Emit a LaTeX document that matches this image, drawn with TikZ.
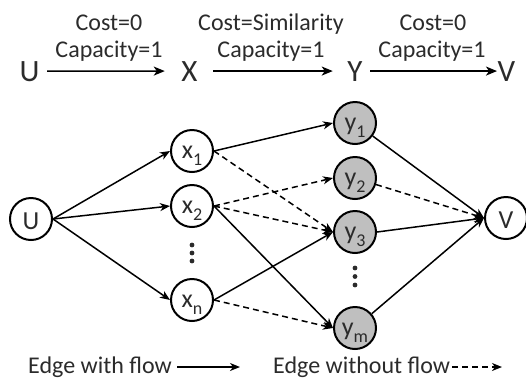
\documentclass[tikz,border=0pt]{standalone}
\usepackage{fontspec}
\setmainfont{Carlito}
\usetikzlibrary{arrows.meta}
\definecolor{ink}{HTML}{2B2B2B}
\definecolor{nodegray}{HTML}{BFBFBF}
% letter with a lowered index, as in x_1
\newcommand\idx[2]{#1\raisebox{-0.3em}{\fontsize{18bp}{18bp}\selectfont #2}}
\begin{document}
\begin{tikzpicture}[x=1bp, y=-1bp,
  every node/.style={font=\fontsize{24bp}{28bp}\selectfont, text=ink},
  txt/.style={inner sep=0pt, anchor=base},
  head/.style={txt, font=\fontsize{31bp}{34bp}\selectfont},
  vertex/.style={circle, draw=black, line width=2bp, minimum size=42bp,
    inner sep=0pt, text height=14bp, text depth=0bp,
    font=\fontsize{26bp}{28bp}\selectfont},
  capvertex/.style={vertex, text height=20bp},
  yvertex/.style={vertex, fill=nodegray},
  flow/.style={line width=1.5bp, draw=black, -{Stealth[length=10bp,width=8bp,inset=3bp]}},
  noflow/.style={flow, dash pattern=on 6bp off 4bp},
  bigflow/.style={line width=1.6bp, draw=black, -{Stealth[length=11bp,width=9bp,inset=3bp]}},
  dotmark/.style={fill=ink}]
\useasboundingbox (0,0) rectangle (526,385);

% ---- header: U -> X -> Y -> V with edge costs and capacities
\node[head] (hU) at (29.5,81) {U};
\node[head] (hX) at (189.5,81) {X};
\node[head] (hY) at (355,81) {Y};
\node[head] (hV) at (506.5,81) {V};
\draw[bigflow, shorten <=7.5bp, shorten >=16.5bp] (hU) -- (hX);
\draw[bigflow, shorten <=15.5bp, shorten >=14.5bp] (hX) -- (hY);
\draw[bigflow, shorten <=7.5bp, shorten >=0.5bp] (hY) -- (hV);
\node[txt] (c1) at (109,30) {Cost=0};
\node[txt] (p1) at (109,57) {Capacity=1};
\node[txt] (c2) at (271,30) {Cost=Similarity};
\node[txt] (p2) at (271,57) {Capacity=1};
\node[txt] (c3) at (433,30) {Cost=0};
\node[txt] (p3) at (432,57) {Capacity=1};

% ---- flow network
\node[capvertex] (U) at (31,219) {U};
\node[vertex] (x1) at (192,151) {\idx{x}{1}};
\node[vertex] (x2) at (192,206) {\idx{x}{2}};
\node[vertex] (xn) at (192,300) {\idx{x}{n}};
\node[yvertex] (y1) at (355,123) {\idx{y}{1}};
\node[yvertex] (y2) at (355,178) {\idx{y}{2}};
\node[yvertex] (y3) at (355,232) {\idx{y}{3}};
\node[yvertex] (ym) at (355,328) {\idx{y}{m}};
\node[capvertex] (V) at (506,218) {V};

% vertical ellipses between the node columns
\foreach \yy in {245,253,261} \fill[dotmark] (192,\yy) circle (2.4bp);
\foreach \yy in {268,276.5,285} \fill[dotmark] (355,\yy) circle (2.4bp);

% source edges
\draw[flow] (U.east) -- (x1.west);
\draw[flow] (U.east) -- (x2.west);
\draw[flow] (U.east) -- (xn.west);
% matching edges
\draw[flow]   (x1.east) -- (y1.west);
\draw[noflow] (x1.east) -- (y3.west);
\draw[noflow] (x2.east) -- (y2.west);
\draw[noflow] (x2.east) -- (y3.west);
\draw[flow]   (x2.east) -- (ym.west);
\draw[flow]   (xn.east) -- (y3.west);
\draw[noflow] (xn.east) -- (ym.west);
% sink edges
\draw[flow]   (y1) -- (V.west);
\draw[noflow] (y2) -- (V.west);
\draw[flow]   (y3.east) -- (V.west);
\draw[flow]   (ym) -- (V.west);

% ---- legend
\node[txt, anchor=base west] (lg1) at (28,373) {Edge with flow};
\coordinate (tip1) at (240,367);
\draw[flow, shorten <=5bp] (lg1.east |- tip1) -- (tip1);
\node[txt, anchor=base west] (lg2) at (273,373) {Edge without flow};
\coordinate (tip2) at (502,367);
\draw[noflow, shorten <=2bp] (lg2.east |- tip2) -- (tip2);
\end{tikzpicture}
\end{document}
